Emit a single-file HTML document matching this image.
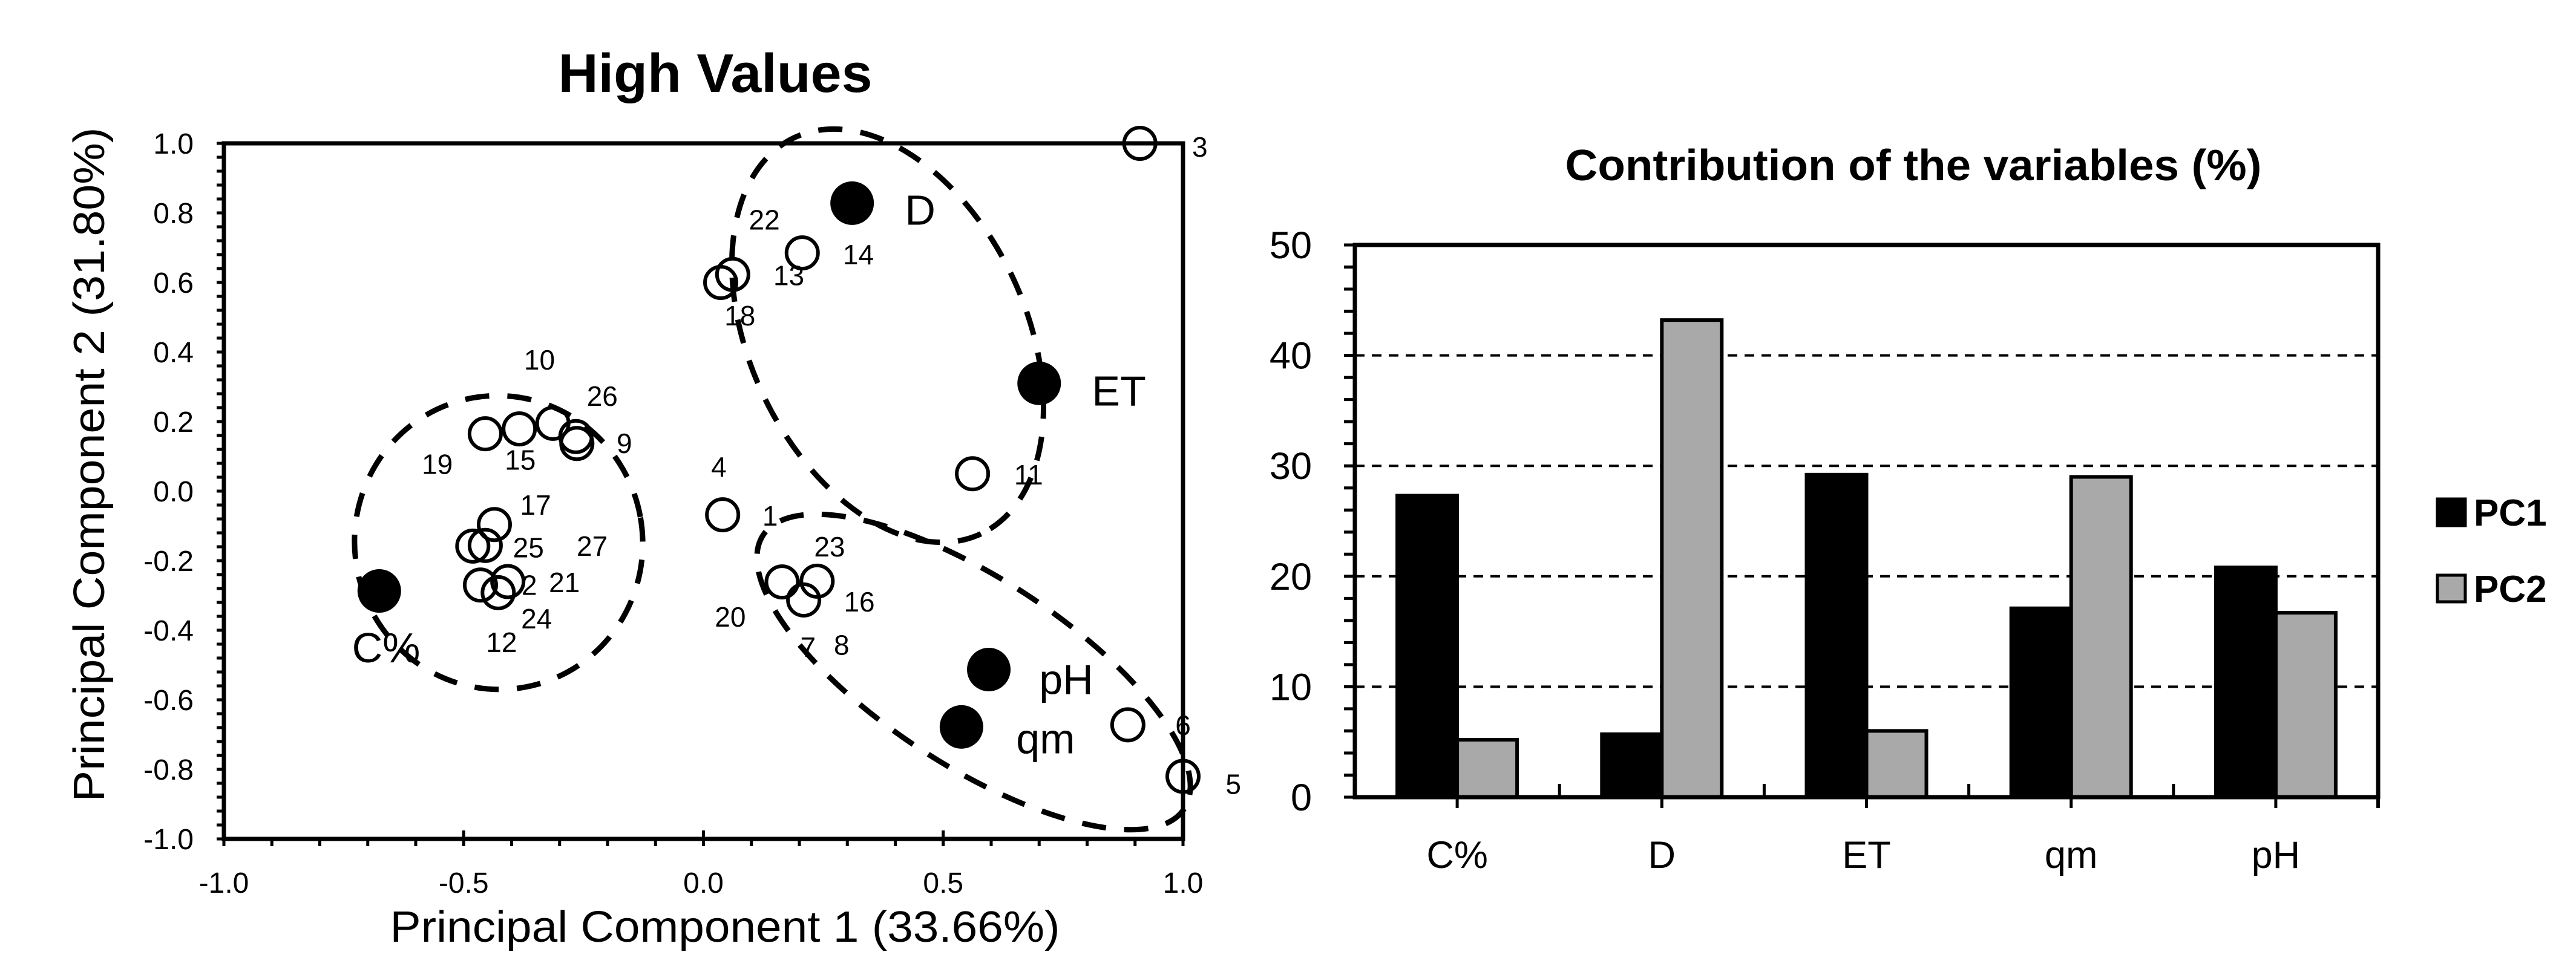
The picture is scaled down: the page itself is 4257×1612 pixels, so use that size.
<!DOCTYPE html>
<html><head><meta charset="utf-8"><style>
html,body{margin:0;padding:0;background:#fff}
svg{display:block}
text{font-family:"Liberation Sans",sans-serif;fill:#000}
</style></head><body>
<svg id="s" width="4257" height="1612" viewBox="0 0 4257 1612" xmlns="http://www.w3.org/2000/svg">
<rect width="4257" height="1612" fill="#fff"/>
<g id="left"></g>
<g id="right"></g>
</svg>
<script>
// PCA scatter data
const obsX = [0.91,0.206,0.061,0.036,0.561,-0.455,-0.384,-0.314,-0.266,-0.264,0.040,-0.436,-0.481,-0.455,-0.465,-0.408,-0.428,0.164,0.237,0.209,0.885,1.0];
const obsY = [1.0,0.685,0.623,0.60,0.050,0.165,0.179,0.195,0.157,0.137,-0.068,-0.096,-0.158,-0.156,-0.27,-0.26,-0.292,-0.261,-0.259,-0.313,-0.672,-0.82];
const varNames = ["D","ET","C%","pH","qm"];
const varX = [0.31,0.70,-0.676,0.595,0.538];
const varY = [0.828,0.31,-0.287,-0.513,-0.678];
const varLabelX = [0.42,0.81,-0.733,0.70,0.652];
const varLabelY = [0.81,0.29,-0.449,-0.54,-0.71];
const obsLabels = ["3","22","14","13","18","11","10","26","9","19","15","4","1","17","25","27","2","21","24","12","23","16","20","7","8","6","5"];
const obsLabelX = [1.035,0.127,0.323,0.178,0.076,0.678,-0.342,-0.211,-0.165,-0.555,-0.382,0.032,0.139,-0.35,-0.365,-0.232,-0.363,-0.29,-0.348,-0.421,0.263,0.325,0.056,0.218,0.288,1.0,1.105];
const obsLabelY = [0.99,0.78,0.68,0.62,0.504,0.047,0.377,0.273,0.137,0.077,0.09,0.07,-0.071,-0.04,-0.163,-0.158,-0.27,-0.263,-0.367,-0.435,-0.16,-0.318,-0.362,-0.449,-0.443,-0.673,-0.843];
const pcaTicks = ["-1.0","-0.8","-0.6","-0.4","-0.2","0.0","0.2","0.4","0.6","0.8","1.0"];
const pcaXTicks = ["-1.0","-0.5","0.0","0.5","1.0"];
// Bar chart data
const cats = ["C%","D","ET","qm","pH"];
const pc1 = [27.3,5.7,29.2,17.1,20.8];
const pc2 = [5.2,43.2,6.0,29.0,16.7];
const barTicks = ["0","10","20","30","40","50"];

const NS="http://www.w3.org/2000/svg";
function mk(p,tag,a){const e=document.createElementNS(NS,tag);for(const k in a)e.setAttribute(k,a[k]);p.appendChild(e);return e;}

// ---------- Left ----------
const L=document.getElementById('left');
const X0=370,X1=1955,Y0=237,Y1=1387;
const sx=v=>X0+(v+1)/2*(X1-X0);
const sy=v=>Y1-(v+1)/2*(Y1-Y0);
let t=mk(L,'text',{x:1182,y:152,'font-size':90,'font-weight':'bold','text-anchor':'middle',textLength:519,lengthAdjust:'spacingAndGlyphs'});t.textContent='High Values';


for(let i=0;i<=50;i++){const y=Y1-i*(Y1-Y0)/50;mk(L,'line',{x1:X0-12,x2:X0,y1:y,y2:y,stroke:'#000','stroke-width':5});}
for(let i=0;i<=20;i++){const x=X0+i*(X1-X0)/20;const big=(i%5==0);mk(L,'line',{x1:x,x2:x,y1:Y1-(big?14:0),y2:Y1+12,stroke:'#000','stroke-width':5});}
let r=mk(L,'rect',{x:X0,y:Y0,width:X1-X0,height:Y1-Y0,fill:'none',stroke:'#000','stroke-width':7});


pcaTicks.forEach(s=>{const e=mk(L,'text',{x:320,y:sy(parseFloat(s))+17,'font-size':48,'text-anchor':'end'});e.textContent=s;

});
pcaXTicks.forEach(s=>{const e=mk(L,'text',{x:sx(parseFloat(s)),y:1476,'font-size':48,'text-anchor':'middle'});e.textContent=s;

});
t=mk(L,'text',{x:1198,y:1557,'font-size':72,'text-anchor':'middle',textLength:1107,lengthAdjust:'spacingAndGlyphs'});t.textContent='Principal Component 1 (33.66%)';


t=mk(L,'text',{x:0,y:0,'font-size':72,'text-anchor':'middle',transform:'translate(172,768) rotate(-90)',textLength:1115,lengthAdjust:'spacingAndGlyphs'});t.textContent='Principal Component 2 (31.80%)';


const ell=[[824,897,238,243,-10],[1467,555,362,228,64.8],[1609,1111,415,155,33]];
ell.forEach(e=>{const el=mk(L,'ellipse',{cx:e[0],cy:e[1],rx:e[2],ry:e[3],transform:`rotate(${e[4]} ${e[0]} ${e[1]})`,fill:'none',stroke:'#000','stroke-width':9,'stroke-dasharray':'40 30'});

});
obsX.forEach((v,i)=>{const c=mk(L,'circle',{cx:sx(v),cy:sy(obsY[i]),r:26,fill:'none',stroke:'#000','stroke-width':6});

});
obsLabels.forEach((s,i)=>{const e=mk(L,'text',{x:sx(obsLabelX[i]),y:sy(obsLabelY[i])+16,'font-size':46,'text-anchor':'middle'});e.textContent=s;

});
varX.forEach((v,i)=>{const c=mk(L,'circle',{cx:sx(v),cy:sy(varY[i]),r:36,fill:'#000'});


const e=mk(L,'text',{x:sx(varLabelX[i]),y:sy(varLabelY[i])+25,'font-size':70});e.textContent=varNames[i];

});

// ---------- Right ----------
const R=document.getElementById('right');
const BX0=2239,BX1=3930,BY0=405,BY1=1318,VMAX=50;
const by=v=>BY1-v/VMAX*(BY1-BY0);
const cw=(BX1-BX0)/cats.length, bw=99;
t=mk(R,'text',{x:3162,y:298,'font-size':72,'font-weight':'bold','text-anchor':'middle',textLength:1151,lengthAdjust:'spacingAndGlyphs'});t.textContent='Contribution of the variables (%)';


barTicks.forEach(s=>{const v=parseFloat(s);const y=by(v);
if(v>0&&v<VMAX){const g=mk(R,'line',{x1:BX0,x2:BX1,y1:y,y2:y,stroke:'#000','stroke-width':4,'stroke-dasharray':'16 12'});

}
const e=mk(R,'text',{x:2168,y:y+22,'font-size':63,'text-anchor':'end'});e.textContent=s;

});
for(let i=0;i<=25;i++){const y=BY1-i*(BY1-BY0)/25;mk(R,'line',{x1:BX0-18,x2:BX0,y1:y,y2:y,stroke:'#000','stroke-width':5});}
cats.forEach((c,i)=>{const cx=BX0+cw*(i+0.5);
const b1=mk(R,'rect',{x:cx-bw,y:by(pc1[i]),width:bw,height:BY1-by(pc1[i]),fill:'#000',stroke:'#000','stroke-width':6});


const b2=mk(R,'rect',{x:cx,y:by(pc2[i]),width:bw,height:BY1-by(pc2[i]),fill:'#a9a9a9',stroke:'#000','stroke-width':6});


mk(R,'line',{x1:cx,x2:cx,y1:BY1,y2:BY1+18,stroke:'#000','stroke-width':5});
const e=mk(R,'text',{x:cx,y:1435,'font-size':63,'text-anchor':'middle'});e.textContent=c;

});
for(let i=1;i<cats.length;i++){const x=BX0+cw*i;mk(R,'line',{x1:x,x2:x,y1:BY1-22,y2:BY1,stroke:'#000','stroke-width':5});}
mk(R,'line',{x1:BX1,x2:BX1,y1:BY1,y2:BY1+18,stroke:'#000','stroke-width':6});
r=mk(R,'rect',{x:BX0,y:BY0,width:BX1-BX0,height:BY1-BY0,fill:'none',stroke:'#000','stroke-width':7});


[["PC1","#000",825],["PC2","#a9a9a9",951]].forEach(l=>{
const g=mk(R,'g',{});


mk(g,'rect',{x:4028,y:l[2],width:46,height:44,fill:l[1],stroke:'#000','stroke-width':5});
const e=mk(g,'text',{x:4088,y:l[2]+44,'font-size':62,'font-weight':'bold'});e.textContent=l[0];});
</script>
</body></html>
